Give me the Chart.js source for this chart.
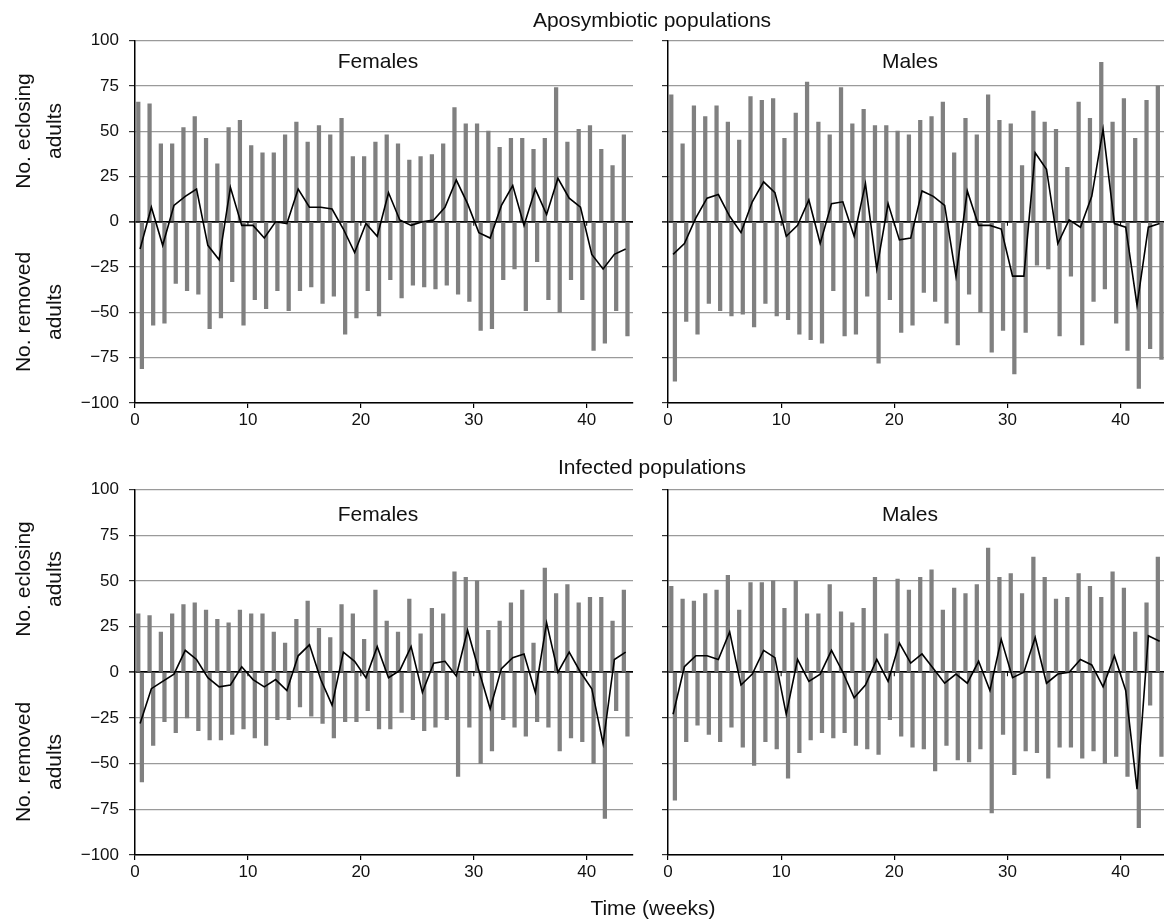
<!DOCTYPE html>
<html>
<head>
<meta charset="utf-8">
<title>Eclosing and removed adults</title>
<script src="https://cdn.jsdelivr.net/npm/chart.js@4.4.1/dist/chart.umd.min.js"></script>
<style>
  html, body { margin: 0; padding: 0; background: #fff; overflow: hidden; width: 1164px; height: 921px; }
  body { position: relative; font-family: 'Liberation Sans', Arial, Helvetica, sans-serif; color: #111; }
  canvas { position: absolute; }
  .lbl { position: absolute; z-index: 2; font-size: 21px; white-space: nowrap; transform: translate(-50%, -50%); }
  .ytitle { position: absolute; z-index: 2; font-size: 21px; line-height: 31px; text-align: center; white-space: nowrap;
            transform: translate(-50%, -50%) rotate(-90deg); }
</style>
</head>
<body>
<canvas id="apoF" width="640" height="440" style="left:0;top:0"></canvas>
<canvas id="apoM" width="530" height="440" style="left:640px;top:0"></canvas>
<canvas id="infF" width="640" height="481" style="left:0;top:440px"></canvas>
<canvas id="infM" width="530" height="481" style="left:640px;top:440px"></canvas>

<div class="lbl" style="left:652px;top:20px">Aposymbiotic populations</div>
<div class="lbl" style="left:652px;top:467px">Infected populations</div>
<div class="lbl" style="left:378px;top:61px">Females</div>
<div class="lbl" style="left:910px;top:61px">Males</div>
<div class="lbl" style="left:378px;top:514px">Females</div>
<div class="lbl" style="left:910px;top:514px">Males</div>
<div class="lbl" style="left:653px;top:908px">Time (weeks)</div>
<div class="ytitle" style="left:38px;top:131px">No. eclosing<br>adults</div>
<div class="ytitle" style="left:38px;top:312px">No. removed<br>adults</div>
<div class="ytitle" style="left:38px;top:579px">No. eclosing<br>adults</div>
<div class="ytitle" style="left:38px;top:762px">No. removed<br>adults</div>

<script>
const weeks = [0, 1, 2, 3, 4, 5, 6, 7, 8, 9, 10, 11, 12, 13, 14, 15, 16, 17, 18, 19, 20, 21,
  22, 23, 24, 25, 26, 27, 28, 29, 30, 31, 32, 33, 34, 35, 36, 37, 38, 39, 40, 41, 42, 43]
const xTicks = [0, 10, 20, 30, 40]
const yTicks = [-100, -75, -50, -25, 0, 25, 50, 75, 100]

// Aposymbiotic populations
const apoFemEclosing = [66, 65, 43, 43, 52, 58, 46, 32, 52, 56, 42, 38, 38, 48, 55, 44, 53, 48, 57, 36, 36, 44,
  48, 43, 34, 36, 37, 43, 63, 54, 54, 50, 41, 46, 46, 40, 46, 74, 44, 51, 53, 40, 31, 48]
const apoFemRemoved = [-81, -57, -56, -34, -38, -40, -59, -53, -33, -57, -43, -48, -38, -49, -38, -36, -45, -41, -62, -53, -38, -52,
  -32, -42, -35, -36, -37, -35, -40, -44, -60, -59, -32, -26, -49, -22, -43, -50, -32, -43, -71, -67, -49, -63]
const apoFemNet = [-15, 8, -13, 9, 14, 18, -13, -21, 19, -2, -2, -9, 0, -1, 18, 8, 8, 7, -4, -17, -1, -8,
  16, 1, -2, 0, 1, 8, 23, 10, -6, -9, 9, 20, -2, 18, 4, 24, 13, 8, -18, -26, -18, -15]

const apoMaleEclosing = [70, 43, 64, 58, 64, 55, 45, 69, 67, 68, 46, 60, 77, 55, 48, 74, 54, 62, 53, 53, 50, 48,
  56, 58, 66, 38, 57, 48, 70, 56, 54, 31, 61, 55, 51, 30, 66, 57, 88, 55, 68, 46, 67, 75]
const apoMaleRemoved = [-88, -55, -62, -45, -49, -52, -51, -58, -45, -52, -54, -62, -65, -67, -38, -63, -62, -41, -78, -43, -61, -57,
  -39, -44, -56, -68, -40, -50, -72, -60, -84, -61, -24, -26, -63, -30, -68, -44, -37, -56, -71, -92, -70, -76]
const apoMaleNet = [-18, -12, 2, 13, 15, 3, -6, 11, 22, 16, -8, -2, 12, -12, 10, 11, -8, 21, -26, 10, -10, -9,
  17, 14, 9, -30, 17, -2, -2, -4, -30, -30, 38, 29, -12, 1, -3, 14, 51, -1, -3, -46, -3, -1]

// Infected populations
const infFemEclosing = [32, 31, 22, 32, 37, 38, 34, 29, 27, 34, 32, 32, 22, 16, 29, 39, 24, 19, 37, 32, 18, 45,
  28, 22, 40, 21, 35, 32, 55, 52, 50, 23, 28, 38, 45, 16, 57, 43, 48, 38, 41, 41, 28, 45]
const infFemRemoved = [-60, -40, -27, -33, -25, -32, -37, -37, -34, -31, -36, -40, -26, -26, -19, -24, -28, -36, -27, -27, -21, -31,
  -31, -22, -26, -32, -30, -26, -57, -30, -50, -43, -26, -30, -35, -27, -30, -43, -36, -38, -50, -80, -21, -35]
const infFemNet = [-28, -9, -5, -1, 12, 7, -3, -8, -7, 3, -4, -8, -4, -10, 9, 15, -4, -18, 11, 6, -3, 14,
  -3, 1, 14, -11, 5, 6, -2, 23, 1, -20, 2, 8, 10, -11, 27, 0, 11, 0, -9, -39, 7, 11]

const infMaleEclosing = [47, 40, 39, 43, 45, 53, 34, 49, 49, 50, 35, 50, 32, 32, 48, 33, 27, 35, 52, 21, 51, 45,
  52, 56, 34, 46, 43, 48, 68, 52, 54, 43, 63, 52, 40, 41, 54, 47, 41, 55, 46, 22, 38, 63]
const infMaleRemoved = [-70, -38, -29, -34, -38, -30, -41, -51, -38, -42, -58, -44, -37, -33, -36, -33, -40, -42, -45, -26, -35, -41,
  -42, -54, -40, -48, -49, -42, -77, -34, -56, -43, -44, -58, -41, -41, -47, -43, -50, -46, -57, -85, -18, -46]
const infMaleNet = [-23, 3, 9, 9, 7, 22, -7, -1, 12, 8, -23, 7, -5, -1, 12, 0, -14, -7, 7, -5, 16, 5,
  10, 2, -6, -1, -6, 6, -10, 18, -3, 0, 19, -6, -1, 0, 7, 4, -8, 9, -10, -64, 20, 17]

;(function () {
  const $ = (id) => document.getElementById(id)
  const BAR = '#808080'
  const SLOT = 0.45 // bars + net line sit in the middle of each week
  const X_MAX = 44.1

  Chart.defaults.font.family = "'Liberation Sans', Arial, Helvetica, sans-serif"
  Chart.defaults.color = '#111'

  const minus = (v) => (v < 0 ? '\u2212' + Math.abs(v) : String(v))
  const points = (vals) => weeks.map((w, i) => ({ x: w + SLOT, y: vals[i] }))

  // short marks hanging under the zero line at each x tick
  const zeroTicks = {
    id: 'zeroTicks',
    beforeDatasetsDraw(chart) {
      const { ctx, scales: { x, y } } = chart
      const y0 = y.getPixelForValue(0)
      ctx.save()
      ctx.strokeStyle = '#000'
      ctx.lineWidth = 1
      xTicks.slice(1).forEach((v) => {
        const px = x.getPixelForValue(v)
        ctx.beginPath(); ctx.moveTo(px, y0); ctx.lineTo(px, y0 + 4); ctx.stroke()
      })
      ctx.restore()
    },
  }

  function panel(id, eclosing, removed, net, box) {
    return new Chart($(id), {
      type: 'bar',
      data: {
        datasets: [
          { type: 'line', data: points(net), borderColor: '#000', borderWidth: 1.6, pointRadius: 0, tension: 0, order: 0 },
          { data: points(eclosing), backgroundColor: BAR, barThickness: 3.6, order: 1 },
          { data: points(removed), backgroundColor: BAR, barThickness: 3.6, order: 1 },
        ],
      },
      options: {
        responsive: false,
        animation: false,
        devicePixelRatio: 1,
        layout: { padding: { top: box.top, right: box.right, left: 0, bottom: 0 } },
        plugins: { legend: { display: false }, tooltip: { enabled: false } },
        scales: {
          x: {
            type: 'linear', min: 0, max: X_MAX, offset: false,
            grid: { drawOnChartArea: false, drawTicks: true, tickLength: 5, color: '#000', lineWidth: 1.2, offset: false },
            border: { color: '#000', width: 1.5 },
            ticks: { padding: 2, maxRotation: 0, autoSkip: false, font: { size: 17 }, color: '#111' },
            afterBuildTicks: (s) => { s.ticks = xTicks.map((v) => ({ value: v })) },
            afterFit: (s) => { s.height = box.xh },
          },
          y: {
            min: -100, max: 100,
            grid: {
              color: (c) => (c.tick && c.tick.value === 0 ? '#000' : '#9a9a9a'),
              lineWidth: (c) => (c.tick && c.tick.value === 0 ? 1.7 : 1.2),
              tickColor: '#333', tickLength: 6,
            },
            border: { color: '#000', width: 1.5 },
            ticks: { display: box.yLabels, padding: 10, font: { size: 17 }, color: '#111', callback: minus },
            afterBuildTicks: (s) => { s.ticks = yTicks.map((v) => ({ value: v })) },
            afterFit: (s) => { s.width = box.yw },
          },
        },
      },
      plugins: [zeroTicks],
    })
  }

  const left = { right: 7, yw: 135, yLabels: true }
  const right = { right: 3, yw: 28, yLabels: false }
  const top = { top: 40.5, xh: 37 }
  const bottom = { top: 49.5, xh: 66 }

  panel('apoF', apoFemEclosing, apoFemRemoved, apoFemNet, { ...left, ...top })
  panel('apoM', apoMaleEclosing, apoMaleRemoved, apoMaleNet, { ...right, ...top })
  panel('infF', infFemEclosing, infFemRemoved, infFemNet, { ...left, ...bottom })
  panel('infM', infMaleEclosing, infMaleRemoved, infMaleNet, { ...right, ...bottom })
})()
</script>
</body>
</html>
